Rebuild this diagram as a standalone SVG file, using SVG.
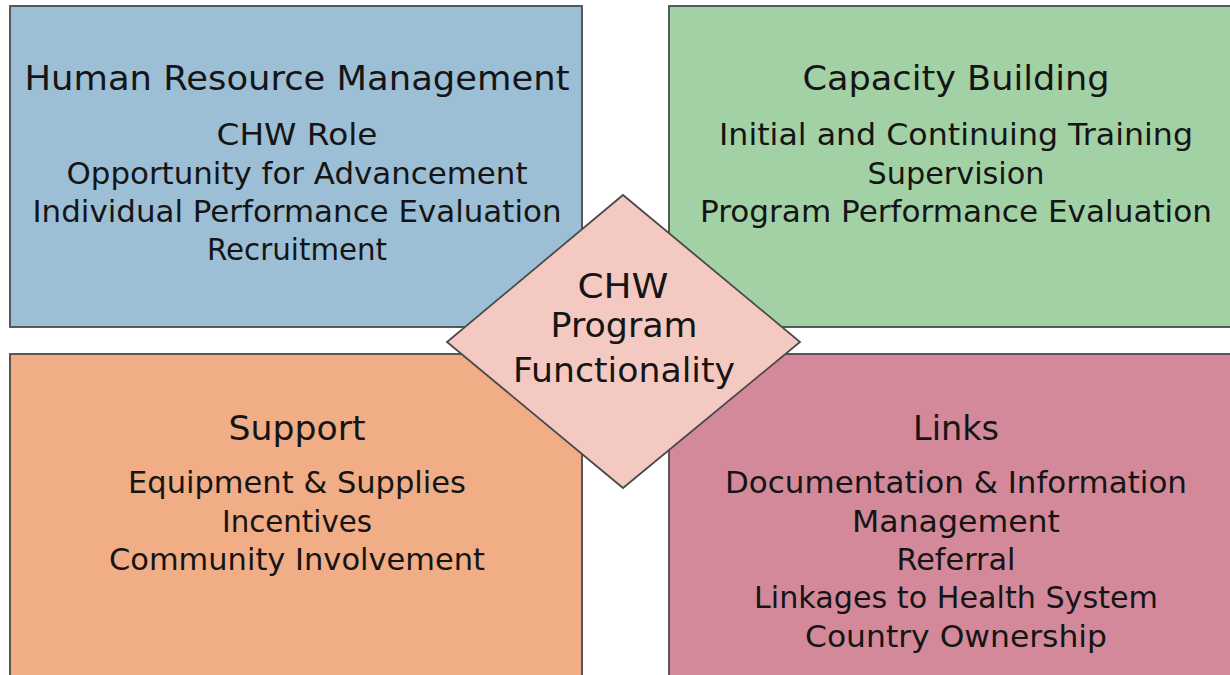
<svg xmlns="http://www.w3.org/2000/svg" width="1230" height="675" viewBox="0 0 1230 675">
<style>
.box{stroke:#4a4a4a;stroke-width:1.8}
text{font-family:"DejaVu Sans","Liberation Sans",sans-serif;fill:#151515;text-anchor:middle}
.h{font-size:33px}
.b{font-size:30px}
.d{font-size:33px}
</style>
<rect width="1230" height="675" fill="#fff"/>
<g id="hrm">
<rect class="box" x="10" y="6" width="572" height="321" fill="#9dbfd6"/>
<text class="h" x="297" y="90" textLength="545" lengthAdjust="spacingAndGlyphs">Human Resource Management</text>
<text class="b" x="297" y="145" textLength="161" lengthAdjust="spacingAndGlyphs">CHW Role</text>
<text class="b" x="297" y="184" textLength="461" lengthAdjust="spacingAndGlyphs">Opportunity for Advancement</text>
<text class="b" x="297" y="222" textLength="529" lengthAdjust="spacingAndGlyphs">Individual Performance Evaluation</text>
<text class="b" x="297" y="260" textLength="180" lengthAdjust="spacingAndGlyphs">Recruitment</text>
</g>
<g id="capacity">
<rect class="box" x="669" y="6" width="570" height="321" fill="#a3d1a6"/>
<text class="h" x="956" y="90" textLength="307" lengthAdjust="spacingAndGlyphs">Capacity Building</text>
<text class="b" x="956" y="145" textLength="474" lengthAdjust="spacingAndGlyphs">Initial and Continuing Training</text>
<text class="b" x="956" y="184" textLength="177" lengthAdjust="spacingAndGlyphs">Supervision</text>
<text class="b" x="956" y="222" textLength="512" lengthAdjust="spacingAndGlyphs">Program Performance Evaluation</text>
</g>
<g id="support">
<rect class="box" x="10" y="354" width="572" height="330" fill="#f0ad86"/>
<text class="h" x="297" y="440" textLength="137" lengthAdjust="spacingAndGlyphs">Support</text>
<text class="b" x="297" y="493" textLength="338" lengthAdjust="spacingAndGlyphs">Equipment &amp; Supplies</text>
<text class="b" x="297" y="532" textLength="150" lengthAdjust="spacingAndGlyphs">Incentives</text>
<text class="b" x="297" y="570" textLength="376" lengthAdjust="spacingAndGlyphs">Community Involvement</text>
</g>
<g id="links">
<rect class="box" x="669" y="354" width="570" height="330" fill="#d4899b"/>
<text class="h" x="956" y="440" textLength="86" lengthAdjust="spacingAndGlyphs">Links</text>
<text class="b" x="956" y="493" textLength="462" lengthAdjust="spacingAndGlyphs">Documentation &amp; Information</text>
<text class="b" x="956" y="532" textLength="208" lengthAdjust="spacingAndGlyphs">Management</text>
<text class="b" x="956" y="570" textLength="119" lengthAdjust="spacingAndGlyphs">Referral</text>
<text class="b" x="956" y="608" textLength="404" lengthAdjust="spacingAndGlyphs">Linkages to Health System</text>
<text class="b" x="956" y="647" textLength="302" lengthAdjust="spacingAndGlyphs">Country Ownership</text>
</g>
<g id="center">
<polygon class="box" points="623,195 800,342 623,488 447,342" fill="#f4c9c2"/>
<text class="d" x="623" y="298" textLength="91" lengthAdjust="spacingAndGlyphs">CHW</text>
<text class="d" x="624" y="337" textLength="147" lengthAdjust="spacingAndGlyphs">Program</text>
<text class="d" x="624" y="382" textLength="222" lengthAdjust="spacingAndGlyphs">Functionality</text>
</g>
<g id="connectors"></g>
</svg>
